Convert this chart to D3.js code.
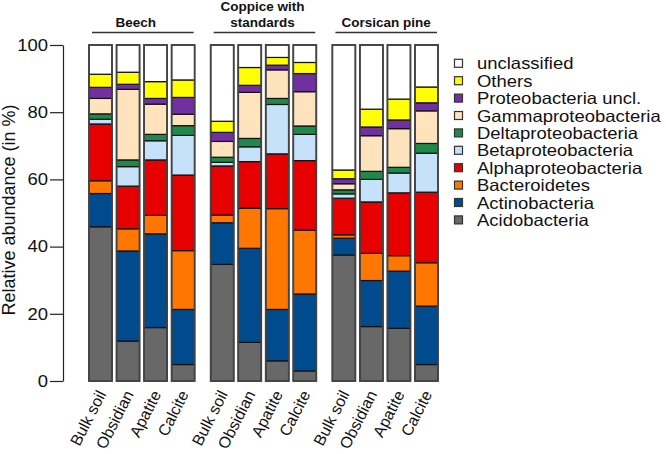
<!DOCTYPE html>
<html><head><meta charset="utf-8">
<script src="https://cdn.jsdelivr.net/npm/d3@7"></script>
<style>body{margin:0;background:#fff}svg{display:block;font-family:"Liberation Sans",Arial,sans-serif}</style>
</head><body><svg id="c" width="666" height="454"></svg>
<script>
const groups = ["Beech", "Coppice with standards", "Corsican pine"];
const samples = ["Bulk soil", "Obsidian", "Apatite", "Calcite"];
const taxa = ["Acidobacteria","Actinobacteria","Bacteroidetes","Alphaproteobacteria","Betaproteobacteria","Deltaproteobacteria","Gammaproteobacteria","Proteobacteria uncl.","Others","unclassified"];
const colors = ["#686868","#004b8d","#ff7700","#e60000","#c6e1fa","#1d8a4b","#ffe3bd","#7030a0","#ffff00","#ffffff"];
// values per taxon (in %), order: Beech x4, Coppice x4, Corsican x4
const Acidobacteria        = [45.9,11.9,15.9, 4.9, 34.7,11.5, 6.0, 3.0, 37.5,16.2,15.7, 4.9];
const Actinobacteria       = [ 9.9,26.8,27.9,16.4, 12.4,28.0,15.3,22.9,  5.0,13.7,17.0,17.4];
const Bacteroidetes        = [ 3.8, 6.6, 5.5,17.5,  2.3,11.9,30.0,19.0,  1.0, 8.1, 4.6,12.9];
const Alphaproteobacteria  = [16.9,12.7,16.5,22.5, 14.6,13.9,16.3,20.7, 10.9,15.3,18.7,21.0];
const Betaproteobacteria   = [ 1.4, 5.8, 5.7,11.8,  1.1, 4.4,14.7, 7.8,  1.3, 6.7, 5.9,11.6];
const Deltaproteobacteria  = [ 1.6, 2.0, 1.9, 2.9,  1.5, 2.5, 1.8, 2.5,  1.2, 2.4, 1.7, 2.9];
const Gammaproteobacteria  = [ 4.6,21.0, 9.0, 3.4,  4.7,13.7, 8.5,10.2,  1.8,10.6,11.5, 9.7];
const ProteobacteriaUncl   = [ 3.3, 1.5, 1.7, 5.0,  2.7, 2.1, 1.4, 5.4,  1.5, 2.6, 2.6, 2.4];
const Others               = [ 3.9, 3.6, 5.0, 5.2,  3.3, 5.3, 2.3, 3.3,  2.6, 5.3, 6.2, 4.7];
const Unclassified         = [ 8.7, 8.1,10.9,10.4, 22.7, 6.7, 3.7, 5.2, 37.2,19.1,16.1,12.5];
const seriesValues = [Acidobacteria,Actinobacteria,Bacteroidetes,Alphaproteobacteria,Betaproteobacteria,Deltaproteobacteria,Gammaproteobacteria,ProteobacteriaUncl,Others,Unclassified];
const yTicks = [0,20,40,60,80,100];

const svg = d3.select("#c");
const y = d3.scaleLinear().domain([0,100]).range([381,45]);
const xg = d3.scaleBand().domain(groups).range([89,438]).paddingInner(0.132).paddingOuter(0);
const xs = d3.scaleBand().domain(samples).range([0,xg.bandwidth()]).paddingInner(0.164).paddingOuter(0);

// rows
const rows = [];
groups.forEach((g,gi)=>samples.forEach((s,si)=>{
  const r = {group:g, sample:s};
  taxa.forEach((t,ti)=>r[t]=seriesValues[ti][gi*4+si]);
  rows.push(r);
}));
const stack = d3.stack().keys(taxa)(rows);

// bars
const bars = svg.append("g");
stack.forEach((layer,li)=>{
  bars.append("g").selectAll("rect").data(layer).join("rect")
    .attr("x", d=>xg(d.data.group)+xs(d.data.sample))
    .attr("width", xs.bandwidth())
    .attr("y", d=>y(Math.min(d[1],100)))
    .attr("height", d=>y(d[0])-y(Math.min(d[1],100)))
    .attr("fill", colors[li])
    .attr("stroke","#111").attr("stroke-width",1.2);
});
bars.append("g").selectAll("rect").data(rows).join("rect")
  .attr("x", d=>xg(d.group)+xs(d.sample))
  .attr("width", xs.bandwidth())
  .attr("y", y(100)).attr("height", y(0)-y(100))
  .attr("fill","none").attr("stroke","#444").attr("stroke-width",1.8);

// y axis
const ax = svg.append("g").attr("transform","translate(63,0)")
  .call(d3.axisLeft(y).tickValues(yTicks).tickSize(13).tickSizeOuter(0).tickPadding(2));
ax.select(".domain").attr("stroke","#222").attr("stroke-width",1.2);
ax.selectAll(".tick line").attr("stroke","#222").attr("stroke-width",1.2);
ax.selectAll(".tick text").each(function(){
  const t = d3.select(this);
  const xx = +t.attr("x");
  t.attr("x", null).attr("transform",`translate(${xx},0) scale(1.12,1)`);
}).attr("font-size",16.5).attr("fill","#111").attr("font-family","'Liberation Sans',Arial,sans-serif");
svg.append("text").attr("transform","translate(15,210) rotate(-90)")
  .attr("text-anchor","middle").attr("font-size",18).attr("fill","#111")
  .text("Relative abundance (in %)");

// x labels
svg.append("g").selectAll("text").data(rows).join("text")
  .attr("transform", d=>`translate(${xg(d.group)+xs(d.sample)+xs.bandwidth()/2+6},394) rotate(-63)`)
  .attr("text-anchor","end").attr("font-size",16).attr("fill","#111")
  .text(d=>d.sample);

// group headers
const gh = svg.append("g");
groups.forEach(g=>{
  const x0 = xg(g), x1 = xg(g)+xg.bandwidth();
  gh.append("line").attr("x1",x0+3).attr("x2",x1-1).attr("y1",32.5).attr("y2",32.5)
    .attr("stroke","#333").attr("stroke-width",1.5);
});
const ghLabels = [["Beech"],["Coppice with","standards"],["Corsican pine"]];
ghLabels.forEach((lines,i)=>{
  const cx = xg(groups[i]) + xg.bandwidth()/2 - (i===0?6:(i===1?1:-1));
  lines.forEach((l,j)=>{
    gh.append("text").attr("x",cx).attr("y", 27 - (lines.length-1-j)*16)
      .attr("text-anchor","middle").attr("font-weight","bold").attr("font-size",13.5).attr("fill","#111").text(l);
  });
});

// legend
const lg = svg.append("g");
const legendOrder = d3.range(taxa.length).reverse();
legendOrder.forEach((ti,k)=>{
  const cy = 63.3 + k*17.4;
  lg.append("rect").attr("x",454.5).attr("y",cy-4).attr("width",8).attr("height",8)
    .attr("fill",colors[ti]).attr("stroke","#333").attr("stroke-width",1.2);
  lg.append("text").attr("transform",`translate(477,${cy+6}) scale(1.12,1)`)
    .attr("font-size",16.5).attr("fill","#111").text(taxa[ti]);
});
</script></body></html>
